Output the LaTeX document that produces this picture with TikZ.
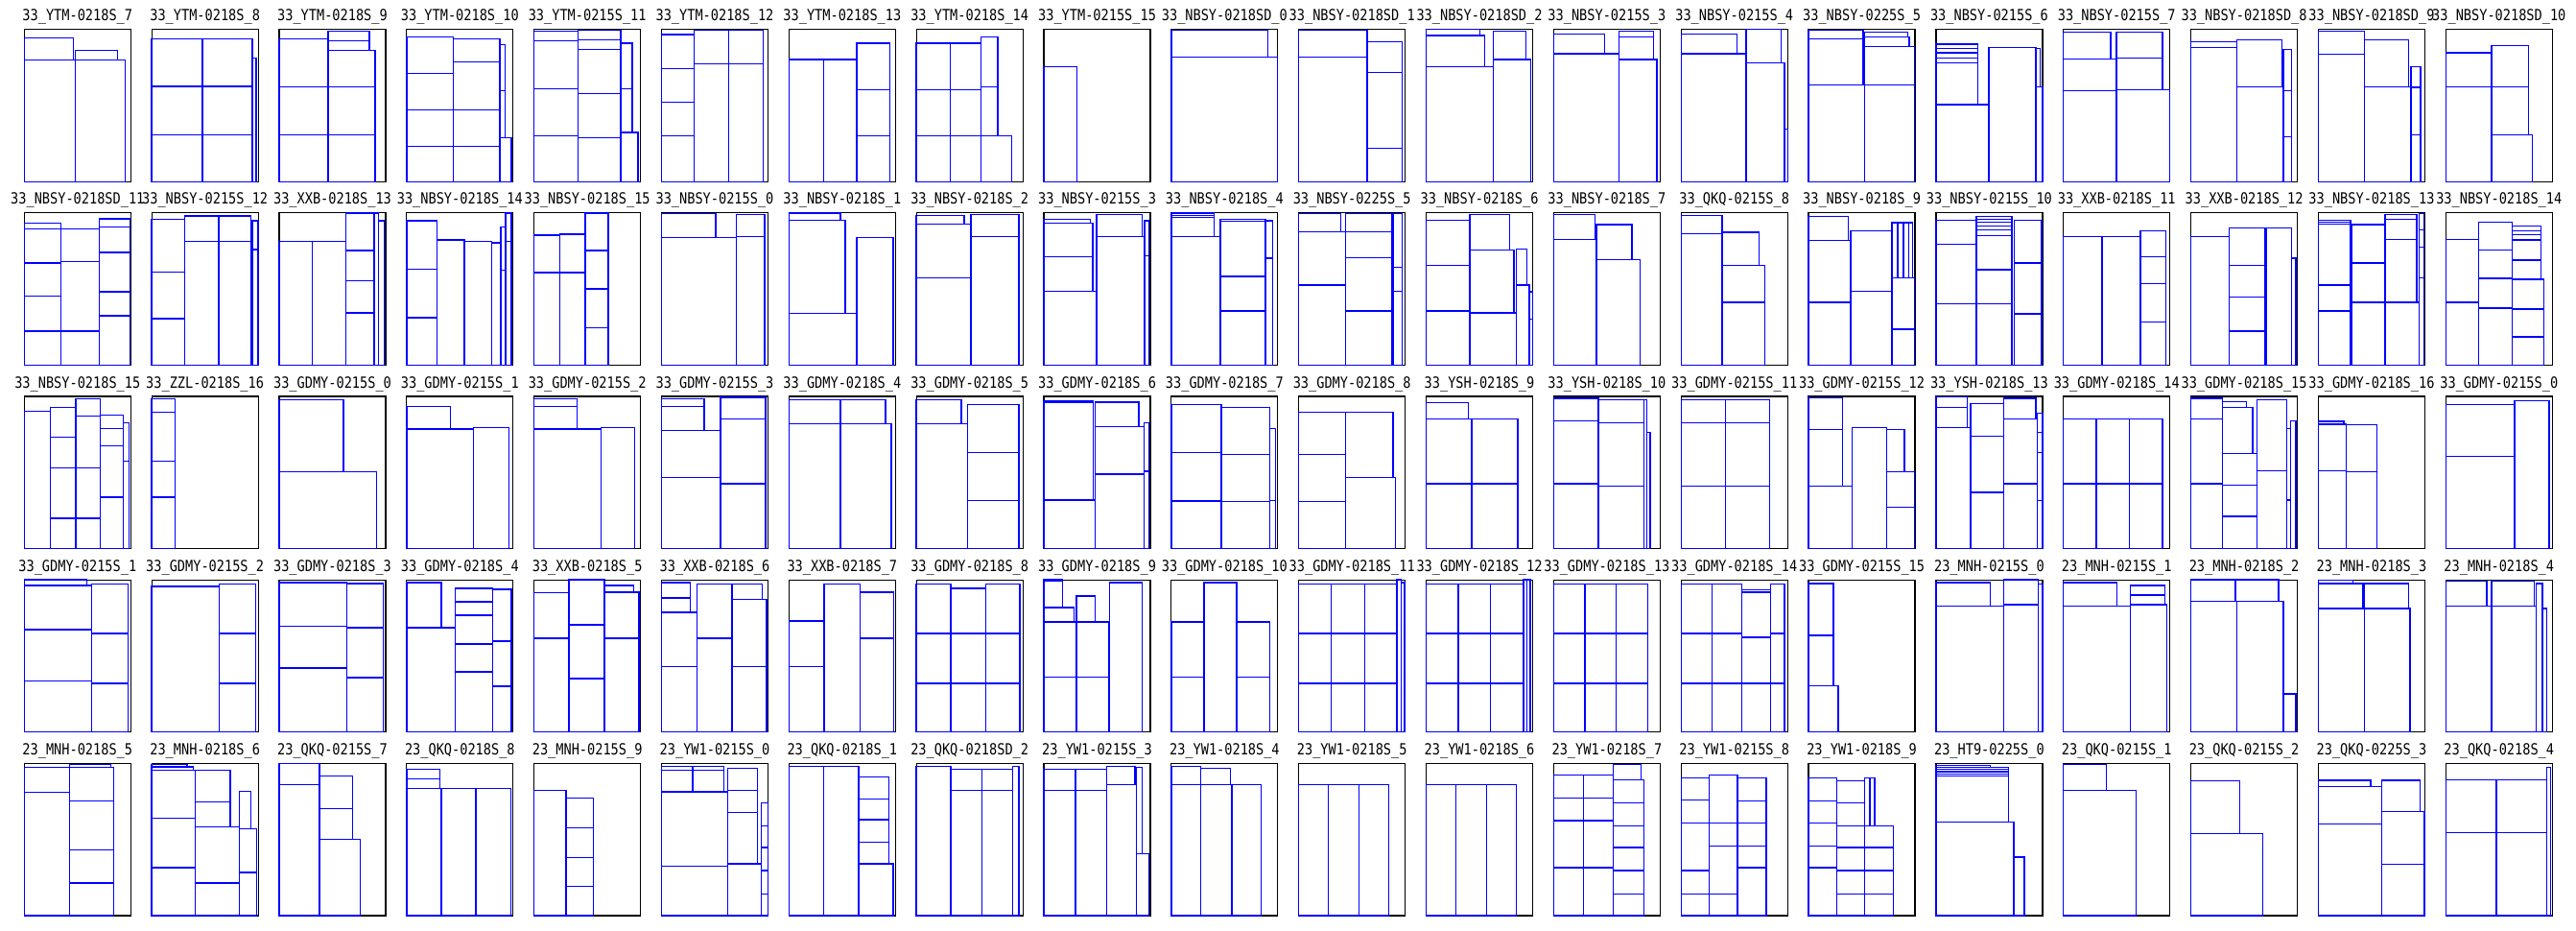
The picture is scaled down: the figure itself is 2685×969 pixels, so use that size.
\documentclass[tikz,border=0pt]{standalone}
\usepackage{fontspec}
\newfontfamily\titlefont[FakeStretch=0.85]{DejaVu Sans Mono}
\tikzset{
  ttl/.style={anchor=base,inner sep=0pt,font=\titlefont\fontsize{8pt}{9pt}\selectfont},
  binbox/.style={draw=black,line width=0.6pt},
  bin/.style={draw=blue,line width=0.7pt}
}
\newcommand{\pnl}[4]{%
  \begin{scope}[shift={({25.3+#1*132.84},{30.7+#2*191.15})}]
    \node[ttl] (t#1r#2) at (55.5,-9) {#3};
    \begin{scope}[x=0.555pt,y=-0.793pt]
      \draw[binbox] (0,0) rectangle (100,100);
      \foreach \a/\b/\c/\d in {#4} \draw[bin] (\a,\b) rectangle (\c,\d);
    \end{scope}
  \end{scope}}
\begin{document}
\begin{tikzpicture}[x=0.5pt,y=-0.5pt]
\useasboundingbox (0,0) rectangle (2685,969);
% ---------------- row 1
\pnl{0}{0}{33\_YTM-0218S\_7}{0/5.5/46/20, 47.7/13.7/87.4/20, 0/20/47.7/100, 47.7/20/94.6/100}
\pnl{1}{0}{33\_YTM-0218S\_8}{0/6.1/47.7/37.4, 0/37.4/47.7/69.3, 0/69.3/47.7/100, 47.7/6.1/94.6/37.4, 47.7/37.4/94.6/69.3, 47.7/69.3/94.6/100, 94.6/18.7/98.2/100}
\pnl{2}{0}{33\_YTM-0218S\_9}{46/1/84.6/7.4, 46/7.4/84.6/13.7, 0/6.1/46/37.6, 0/37.6/46/69.3, 0/69.3/46/100, 46/13.7/90/37.6, 46/37.6/90/69.3, 46/69.3/90/100}
\pnl{3}{0}{33\_YTM-0218S\_10}{0/4.8/43.8/28.8, 0/28.8/43.8/52.7, 0/52.7/43.8/76.7, 0/76.7/43.8/100, 43.8/6.1/87.7/21.2, 43.8/21.2/87.7/52.7, 43.8/52.7/87.7/76.7, 43.8/76.7/87.7/100, 87.7/9.9/92.3/40.3, 87.7/40.3/92.3/71.2, 87.7/71.2/98.5/100}
\pnl{4}{0}{33\_YTM-0215S\_11}{0/1/41.5/7.4, 0/7.4/41.5/38.9, 0/38.9/41.5/70, 0/70/41.5/100, 41.5/0.6/81.5/6.7, 41.5/6.7/81.5/13, 41.5/13/81.5/42, 41.5/42/81.5/71.2, 41.5/71.2/81.5/100, 81.5/9/92.3/38.9, 81.5/38.9/92.3/67.6, 81.5/67.6/97.7/100}
\pnl{5}{0}{33\_YTM-0218S\_12}{0/3.4/30.8/25.6, 0/25.6/30.8/47.9, 0/47.9/30.8/70, 0/70/30.8/100, 30.8/0.6/63/22.5, 30.8/22.5/63/100, 63/0.6/95.4/22.5, 63/22.5/95.4/100}
\pnl{6}{0}{33\_YTM-0218S\_13}{0/19.7/32.3/100, 32.3/19.7/63.8/100, 63.8/9/94.6/39.7, 63.8/39.7/94.6/70, 63.8/70/94.6/100}
\pnl{7}{0}{33\_YTM-0218S\_14}{0/9/31.8/39.7, 0/39.7/31.8/70, 0/70/31.8/100, 31.8/9/60.6/39.7, 31.8/39.7/60.6/70, 31.8/70/60.6/100, 60.6/4.8/76.5/37.6, 60.6/37.6/76.5/70, 60.6/70/89.4/100}
\pnl{8}{0}{33\_YTM-0215S\_15}{0/24.4/30.8/100}
\pnl{9}{0}{33\_NBSY-0218SD\_0}{0/0.6/90.8/18, 0/18/99.5/100}
\pnl{10}{0}{33\_NBSY-0218SD\_1}{0/0.6/64.3/18, 0/18/64.3/100, 64.3/8/96.9/28.4, 64.3/28.4/96.9/77.9, 64.3/77.9/96.9/100}
\pnl{11}{0}{33\_NBSY-0218SD\_2}{0/0/50.4/4, 0/4/55/24.4, 0/24.4/62.8/100, 62.8/1/93.8/19.7, 62.8/19.7/98.4/100}
\pnl{12}{0}{33\_NBSY-0215S\_3}{0/3.2/48/16, 0/16/61.2/100, 61.2/1/93.8/4.8, 61.2/4.8/93.8/19.7, 61.2/19.7/96.9/100}
\pnl{13}{0}{33\_NBSY-0215S\_4}{0/3.2/52.7/16, 0/16/61.2/100, 61.2/0/93.8/21.8, 61.2/21.8/96.9/100, 96.9/65.3/100/100}
\pnl{14}{0}{33\_NBSY-0225S\_5}{0/0.6/51.2/6.1, 0/6.1/51.2/36.3, 0/36.3/52.7/100, 52.7/1.7/93/4.8, 52.7/4.8/94.6/11.3, 52.7/11.3/99.2/36.3, 52.7/36.3/99.2/100}
\pnl{15}{0}{33\_NBSY-0215S\_6}{0/9.7/39.5/12.4, 0/12.4/39.5/15.3, 0/15.3/39.5/18.7, 0/18.7/39.5/22, 0/22/39.5/49.4, 0/49.4/49.6/100, 49.6/11.8/93.8/100, 93.8/12.4/97.7/37.6, 93.8/37.6/100/100}
\pnl{16}{0}{33\_NBSY-0215S\_7}{0/1.7/44.2/19.3, 0/19.3/49.6/40.3, 0/40.3/49.6/100, 49.6/1.7/93/18.7, 49.6/18.7/93/39.7, 49.6/39.7/100/100}
\pnl{17}{0}{33\_NBSY-0218SD\_8}{0/8/43.4/11.8, 0/11.8/43.4/100, 43.4/6.7/85.3/37.6, 43.4/37.6/86.8/100, 86.8/13.2/94.6/40.3, 86.8/40.3/94.6/70.6, 86.8/70.6/94.6/100}
\pnl{18}{0}{33\_NBSY-0218SD\_9}{0/1/43.4/16.4, 0/16.4/43.4/100, 43.4/6.7/84.5/37.6, 43.4/37.6/86.8/100, 86.8/24.4/96.1/38, 86.8/38/96.1/69.3, 86.8/69.3/96.1/100}
\pnl{19}{0}{33\_NBSY-0218SD\_10}{0/15.3/43/37.6, 0/37.6/43/100, 43/10.5/77.7/37.6, 43/37.6/77.7/69.3, 43/69.3/81.5/100}
% ---------------- row 2
\pnl{0}{1}{33\_NBSY-0218SD\_11}{0/6.7/34.4/10.5, 0/10.5/34.4/33, 0/33/34.4/54.8, 0/54.8/34.4/77.6, 0/77.6/34.4/100, 34.4/10.5/70.3/31.8, 34.4/31.8/70.3/77.6, 34.4/77.6/70.3/100, 70.3/4/99.2/9.2, 70.3/9.2/99.2/25.9, 70.3/25.9/99.2/51.9, 70.3/51.9/99.2/67.6, 70.3/67.6/99.2/100}
\pnl{1}{1}{33\_NBSY-0215S\_12}{0/4.2/31/38.7, 0/38.7/31/69.5, 0/69.5/31/100, 31/2.1/62.8/18.6, 31/18.6/62.8/100, 62.8/2.1/93/18.6, 62.8/18.6/93/100, 94.6/5.2/100/24, 94.6/24/100/100}
\pnl{2}{1}{33\_XXB-0218S\_13}{0/18.6/31/100, 31/18.6/62.8/100, 62.8/0/89.1/24.7, 62.8/24.7/89.1/44.6, 62.8/44.6/89.1/65.7, 62.8/65.7/89.1/100, 89.1/0/93/100, 93/5.2/98.4/100}
\pnl{3}{1}{33\_NBSY-0218S\_14}{0/5.2/28.7/36.8, 0/36.8/28.7/68.8, 0/68.8/28.7/100, 28.7/17.8/54.3/100, 54.3/18.6/79.8/100, 79.8/19.7/88.4/100, 88.4/9.2/93/37.7, 88.4/37.7/93/100, 93/0/98.4/18.6, 93/18.6/98.4/100}
\pnl{4}{1}{33\_NBSY-0218S\_15}{0/14.6/24/39.3, 0/39.3/24/100, 24/14/48/39.3, 24/39.3/48/100, 48/0/69.8/24.7, 48/24.7/69.8/50, 48/50/69.8/75.3, 48/75.3/69.8/100}
\pnl{5}{1}{33\_NBSY-0215S\_0}{0/0.4/50.8/16.1, 0/16.1/70/100, 70/1/96.9/15.5, 70/15.5/96.9/100}
\pnl{6}{1}{33\_NBSY-0218S\_1}{0/0/48.5/4.8, 0/4.8/53/66.1, 0/66.1/63.8/100, 63.8/16.1/97.7/100}
\pnl{7}{1}{33\_NBSY-0218S\_2}{0/1.7/45/7.3, 0/7.3/51.1/42.5, 0/42.5/51.1/100, 51.1/1/96.2/15.5, 51.1/15.5/96.2/100}
\pnl{8}{1}{33\_NBSY-0215S\_3}{0/4.2/43.5/6.7, 0/6.7/45.8/28.9, 0/28.9/45.8/51.3, 0/51.3/49.6/100, 49.6/1/92.4/15.5, 49.6/15.5/94.7/100, 94.7/5.2/98.5/28, 94.7/28/98.5/100}
\pnl{9}{1}{33\_NBSY-0218S\_4}{0/0/40/1.7, 0/1.7/40/2.9, 0/2.9/40/15.5, 0/15.5/46.2/100, 46.2/4.2/88.5/5.4, 46.2/5.4/88.5/41.8, 46.2/41.8/88.5/64.4, 46.2/64.4/88.5/100, 88.5/5.2/95.4/29.7, 88.5/29.7/95.4/100}
\pnl{10}{1}{33\_NBSY-0225S\_5}{0/0.4/39.5/12.3, 0/12.3/44.2/47.5, 0/47.5/44.2/100, 44.2/0.4/87.6/12.3, 44.2/12.3/87.6/29.3, 44.2/29.3/87.6/64.4, 44.2/64.4/87.6/100, 88.4/0.4/96.9/35.6, 88.4/35.6/96.9/51.3, 88.4/51.3/96.9/100}
\pnl{11}{1}{33\_NBSY-0218S\_6}{0/4.8/41/34.3, 0/34.3/41/64.4, 0/64.4/41/100, 41/1/78.3/24.3, 41/24.3/82.2/65.7, 41/65.7/84.5/100, 84.5/23.6/94.6/47.5, 84.5/47.5/96.9/100, 96.9/51.7/100/69.7, 96.9/69.7/100/100}
\pnl{12}{1}{33\_NBSY-0218S\_7}{0/1/38.8/17.4, 0/17.4/40.3/100, 40.3/7.7/73.6/30.5, 40.3/30.5/81.4/100}
\pnl{13}{1}{33\_QKQ-0215S\_8}{0/1.7/38.5/13.6, 0/13.6/38.5/100, 38.5/12.8/73/34.3, 38.5/34.3/78.5/58.8, 38.5/58.8/78.5/100}
\pnl{14}{1}{33\_NBSY-0218S\_9}{0/2.3/37.2/18, 0/18/39.5/58.8, 0/58.8/39.5/100, 39.5/11.7/78.3/51.3, 39.5/51.3/78.3/100, 78.3/6.5/83.7/42.5, 83.7/6.5/89.1/42.5, 89.1/6.5/93.8/42.5, 93.8/6.5/97.7/42.5, 78.3/42.5/99.2/76.4, 78.3/76.4/99.2/100}
\pnl{15}{1}{33\_NBSY-0215S\_10}{0/4.8/38/20.5, 0/20.5/38/59.8, 0/59.8/38/100, 38/2.3/71.3/4.2, 38/4.2/71.3/6.1, 38/6.1/71.3/8.6, 38/8.6/71.3/11.1, 38/11.1/71.3/14.9, 38/14.9/71.3/37.2, 38/37.2/71.3/59.8, 38/59.8/71.3/100, 73.6/4.8/99.2/33, 73.6/33/99.2/66.3, 73.6/66.3/99.2/100}
\pnl{16}{1}{33\_XXB-0218S\_11}{0/15.5/36.4/100, 36.4/15.5/72.1/100, 72.1/11.7/96.1/28.9, 72.1/28.9/96.1/46.4, 72.1/46.4/96.1/71.5, 72.1/71.5/96.1/100}
\pnl{17}{1}{33\_XXB-0218S\_12}{0/15.5/35.7/100, 35.7/9.8/69/34.3, 35.7/34.3/69/55.4, 35.7/55.4/69/77.6, 35.7/77.6/69/100, 70.5/9.8/94.6/100, 94.6/29.7/98.4/100}
\pnl{18}{1}{33\_NBSY-0218S\_13}{0/4.8/30.2/5.9, 0/5.9/30.2/7.3, 0/7.3/30.2/47.5, 0/47.5/30.2/64.4, 0/64.4/30.2/100, 31.8/7.7/62.8/33, 31.8/33/62.8/58.8, 31.8/58.8/62.8/100, 62.8/1/92.2/4.2, 62.8/4.2/92.2/17.4, 62.8/17.4/92.2/58.8, 62.8/58.8/94.6/100, 94.6/0.4/99.2/11.1, 94.6/11.1/99.2/22.6, 94.6/22.6/99.2/42.5, 94.6/42.5/99.2/100}
\pnl{19}{1}{33\_NBSY-0218S\_14}{0/17.4/30.8/58.8, 0/58.8/30.8/100, 30.8/6.1/62.3/24.3, 30.8/24.3/62.3/42.9, 30.8/42.9/62.3/62.6, 30.8/62.6/62.3/100, 62.3/8.6/89.2/11.7, 62.3/11.7/89.2/14.2, 62.3/14.2/89.2/17.8, 62.3/17.8/89.2/30.9, 62.3/30.9/89.2/43.5, 62.3/43.5/92.3/63.2, 62.3/63.2/92.3/81.4, 62.3/81.4/92.3/100}
% ---------------- row 3
\pnl{0}{2}{33\_NBSY-0218S\_15}{0/9.8/24.6/100, 24.6/7.3/48.5/26.8, 24.6/26.8/48.5/47.1, 24.6/47.1/48.5/80.1, 24.6/80.1/48.5/100, 48.5/1.7/71.5/13, 48.5/13/71.5/47.1, 48.5/47.1/71.5/80.1, 48.5/80.1/71.5/100, 71.5/12.3/93/21.1, 71.5/21.1/93/32.4, 71.5/32.4/93/66.3, 71.5/66.3/93/100, 93/17.4/98.5/42.7, 93/42.7/98.5/100}
\pnl{1}{2}{33\_ZZL-0218S\_16}{0/1.7/21.7/10.5, 0/10.5/21.7/42.7, 0/42.7/21.7/66.3, 0/66.3/21.7/100}
\pnl{2}{2}{33\_GDMY-0215S\_0}{0/2.1/60.5/49.6, 0/49.6/91.5/100}
\pnl{3}{2}{33\_GDMY-0215S\_1}{0/6.7/41/21.5, 0/21.5/62.8/100, 62.8/20.5/96.1/100}
\pnl{4}{2}{33\_GDMY-0215S\_2}{0/1.7/40.3/6.7, 0/6.7/40.3/21.5, 0/21.5/62.8/100, 62.8/20.5/94.6/100}
\pnl{5}{2}{33\_GDMY-0215S\_3}{0/1.7/40/6.7, 0/6.7/40/22.2, 0/22.2/55.4/53.3, 0/53.3/55.4/100, 55.4/0.6/97.7/14.9, 55.4/14.9/97.7/57.3, 55.4/57.3/97.7/100}
\pnl{6}{2}{33\_GDMY-0218S\_4}{0/2.1/48.5/18, 0/18/48.5/100, 48.5/2.1/90.8/18, 48.5/18/96.2/100}
\pnl{7}{2}{33\_GDMY-0218S\_5}{0/2.1/42/18, 0/18/48.1/100, 48.1/5.2/96.2/37, 48.1/37/96.2/68.4, 48.1/68.4/96.2/100}
\pnl{8}{2}{33\_GDMY-0218S\_6}{0/2.7/46.6/3.6, 0/3.6/46.6/4.2, 0/4.2/46.6/68.2, 0/68.2/48.1/100, 48.1/3.8/89.3/19.9, 48.1/19.9/93.9/51, 48.1/51/93.9/100, 93.9/17.4/98.5/49.2, 93.9/49.2/98.5/100}
\pnl{9}{2}{33\_GDMY-0218S\_7}{0/5.2/46.9/36.8, 0/36.8/46.9/68.6, 0/68.6/46.9/100, 46.9/7.3/92.3/38.1, 46.9/38.1/92.3/69.2, 46.9/69.2/92.3/100, 92.3/21.1/97.7/68.4, 92.3/68.4/97.7/100}
\pnl{10}{2}{33\_GDMY-0218S\_8}{0/10.5/44.2/38.1, 0/38.1/44.2/69.2, 0/69.2/44.2/100, 44.2/10.5/88.4/53.1, 44.2/53.1/90.7/100}
\pnl{11}{2}{33\_YSH-0218S\_9}{0/4.2/39.5/14.9, 0/14.9/42.6/57.3, 0/57.3/42.6/100, 42.6/14.9/86/57.3, 42.6/57.3/86/100}
\pnl{12}{2}{33\_YSH-0218S\_10}{0/1.3/41.9/16.1, 0/16.1/41.9/57.3, 0/57.3/41.9/100, 41.9/2.1/84.5/17.2, 41.9/17.2/84.5/59, 41.9/59/84.5/100, 84.5/2.1/87.6/100, 87.6/23.6/90.7/100}
\pnl{13}{2}{33\_GDMY-0215S\_11}{0/2.1/41.5/17.4, 0/17.4/41.5/58.8, 0/58.8/41.5/100, 41.5/2.1/83.1/17.4, 41.5/17.4/83.1/58.8, 41.5/58.8/83.1/100}
\pnl{14}{2}{33\_GDMY-0215S\_12}{0/1/31.8/21.8, 0/21.8/31.8/58.8, 0/58.8/41/100, 41/20.5/73.6/100, 73.6/21.8/89.9/49.6, 73.6/49.6/99.5/72.8, 73.6/72.8/99.5/100}
\pnl{15}{2}{33\_YSH-0218S\_13}{0/0.4/29.5/7.3, 0/7.3/29.5/20.5, 0/20.5/32.6/100, 32.6/4.6/63.6/26.2, 32.6/26.2/63.6/63, 32.6/63/63.6/100, 63.6/1.3/93.8/14.9, 63.6/14.9/95.3/57.3, 63.6/57.3/95.3/100, 95.3/11.1/100/23.6, 95.3/23.6/100/36.8, 95.3/36.8/100/68.4, 95.3/68.4/100/100}
\pnl{16}{2}{33\_GDMY-0218S\_14}{0/14.9/31/57.3, 0/57.3/31/100, 31/14.9/62/57.3, 31/57.3/62/100, 62/14.9/93/57.3, 62/57.3/93/100}
\pnl{17}{2}{33\_GDMY-0218S\_15}{0/1.3/29.5/14.9, 0/14.9/29.5/57.3, 0/57.3/29.5/100, 29.5/3.6/51.9/7.3, 29.5/7.3/58.1/37.7, 29.5/37.7/62/58.2, 29.5/58.2/62/78.9, 29.5/78.9/62/100, 62/2.1/89.9/49, 62/49/89.9/100, 89.9/21.1/93.8/68.2, 89.9/68.2/93.8/100, 93.8/15.9/98.4/100}
\pnl{18}{2}{33\_GDMY-0218S\_16}{0/16.5/24/18.2, 0/18.2/26.4/49, 0/49/26.4/100, 26.4/18.6/55/49.6, 26.4/49.6/55/100}
\pnl{19}{2}{33\_GDMY-0215S\_0}{0/5.2/64.6/39.3, 0/39.3/64.6/100, 64.6/2.9/96.9/100}
% ---------------- row 4
\pnl{0}{3}{33\_GDMY-0215S\_1}{0/0/58.5/3.6, 0/3.6/63/32.6, 0/32.6/63/66.3, 0/66.3/63/100, 63/2.9/97.7/35.2, 63/35.2/97.7/68, 63/68/97.7/100}
\pnl{1}{3}{33\_GDMY-0215S\_2}{0/4.2/63.6/100, 63.6/2.9/97.7/35.2, 63.6/35.2/97.7/68, 63.6/68/97.7/100}
\pnl{2}{3}{33\_GDMY-0218S\_3}{0/1.7/63.6/30.3, 0/30.3/63.6/57.9, 0/57.9/63.6/100, 63.6/2.3/97.7/31.4, 63.6/31.4/97.7/64.2, 63.6/64.2/97.7/100}
\pnl{3}{3}{33\_GDMY-0218S\_4}{0/1.7/32.6/31.4, 0/31.4/45.7/100, 45.7/5.5/80.6/14.3, 45.7/14.3/80.6/23.2, 45.7/23.2/80.6/42.1, 45.7/42.1/80.6/60.4, 45.7/60.4/80.6/100, 80.6/6.1/98.4/40.2, 80.6/40.2/98.4/69.9, 80.6/69.9/98.4/100}
\pnl{4}{3}{33\_XXB-0218S\_5}{0/8.6/32.6/38.3, 0/38.3/32.6/100, 32.6/0/65.9/29.5, 32.6/29.5/65.9/64.8, 32.6/64.8/65.9/100, 65.9/3.6/93.8/8, 65.9/8/98.4/38.3, 65.9/38.3/98.4/100}
\pnl{5}{3}{33\_XXB-0218S\_6}{0/1.7/26.9/11.8, 0/11.8/26.9/21.3, 0/21.3/33.1/56.8, 0/56.8/33.1/100, 33.1/2.9/66.2/38.3, 33.1/38.3/66.2/100, 66.2/2.9/94.6/13, 66.2/13/98.5/56.8, 66.2/56.8/98.5/100}
\pnl{6}{3}{33\_XXB-0218S\_7}{0/26.9/33.1/56.8, 0/56.8/33.1/100, 33.1/2.9/66.9/100, 66.9/8/98.5/38.3, 66.9/38.3/98.5/100}
\pnl{7}{3}{33\_GDMY-0218S\_8}{0/2.9/32.1/35.2, 0/35.2/32.1/68, 0/68/32.1/100, 32.1/5.5/64.9/35.2, 32.1/35.2/64.9/68, 32.1/68/64.9/100, 64.9/2.9/97/35.2, 64.9/35.2/97/68, 64.9/68/97/100}
\pnl{8}{3}{33\_GDMY-0218S\_9}{0/0/17.6/1, 0/1/17.6/18.1, 0/18.1/28.2/27.6, 0/27.6/30.5/64, 0/64/30.5/100, 30.5/10.5/48.1/27.6, 30.5/27.6/61.1/64, 30.5/64/61.1/100, 61.8/1.7/92.4/100}
\pnl{9}{3}{33\_GDMY-0218S\_10}{0/27.6/30.8/64, 0/64/30.8/100, 30.8/1.7/61.5/100, 61.5/27.6/92.3/64, 61.5/64/92.3/100}
\pnl{10}{3}{33\_GDMY-0218S\_11}{0/2.9/30.2/35.2, 0/35.2/30.2/68, 0/68/30.2/100, 30.2/2.9/62/35.2, 30.2/35.2/62/68, 30.2/68/62/100, 62/2.9/92.2/35.2, 62/35.2/92.2/68, 62/68/92.2/100, 92.2/0/96.1/100, 96.1/1.7/99.2/100}
\pnl{11}{3}{33\_GDMY-0218S\_12}{0/2.9/30.2/35.2, 0/35.2/30.2/68, 0/68/30.2/100, 30.2/2.9/60.5/35.2, 30.2/35.2/60.5/68, 30.2/68/60.5/100, 60.5/2.9/91.5/35.2, 60.5/35.2/91.5/68, 60.5/68/91.5/100, 91.5/0/94.6/100, 94.6/0/97.7/100}
\pnl{12}{3}{33\_GDMY-0218S\_13}{0/2.9/29.5/35.2, 0/35.2/29.5/68, 0/68/29.5/100, 29.5/2.9/58.9/35.2, 29.5/35.2/58.9/68, 29.5/68/58.9/100, 58.9/2.9/88.4/35.2, 58.9/35.2/88.4/68, 58.9/68/88.4/100}
\pnl{13}{3}{33\_GDMY-0218S\_14}{0/2.9/29.2/35.2, 0/35.2/29.2/68, 0/68/29.2/100, 29.2/2.9/56.9/35.2, 29.2/35.2/56.9/68, 29.2/68/56.9/100, 56.9/6.7/83.8/8, 56.9/8/83.8/37.7, 56.9/37.7/83.8/68, 56.9/68/83.8/100, 83.8/2.9/96.9/35.2, 83.8/35.2/96.9/68, 83.8/68/96.9/100}
\pnl{14}{3}{33\_GDMY-0215S\_15}{0/2.3/23.3/36.4, 0/36.4/23.3/69.7, 0/69.7/27.9/100}
\pnl{15}{3}{23\_MNH-0215S\_0}{0/1.7/51.2/17.3, 0/17.3/63.6/100, 63.6/0/96.1/16.2, 63.6/16.2/96.1/100, 96.1/2.9/100/100}
\pnl{16}{3}{23\_MNH-0215S\_1}{0/1.7/50.4/17.3, 0/17.3/62.8/100, 62.8/3.6/95.3/9.9, 62.8/9.9/95.3/16.2, 62.8/16.2/96.9/100}
\pnl{17}{3}{23\_MNH-0218S\_2}{0/0/41.9/13.9, 41.9/0/82.2/13.9, 0/13.9/43.4/100, 43.4/13.9/86.8/100, 86.8/74.9/98.4/100}
\pnl{18}{3}{23\_MNH-0218S\_3}{0/0.4/32.6/2.3, 0/2.3/41.9/18.9, 0/18.9/43.4/100, 43.4/2.3/84.5/18.9, 43.4/18.9/86/100}
\pnl{19}{3}{23\_MNH-0218S\_4}{0/1/38.5/17.3, 0/17.3/43.1/100, 43.1/1/83.1/17.3, 43.1/17.3/84.6/100, 84.6/2.3/90.8/100, 90.8/18.9/94.6/100}
% ---------------- row 5
\pnl{0}{4}{23\_MNH-0218S\_5}{0/2.7/42.3/19, 0/19/42.3/100, 42.3/0.6/81.5/2.7, 42.3/2.7/83.8/24.7, 42.3/24.7/83.8/56.9, 42.3/56.9/83.8/78.7, 42.3/78.7/83.8/100}
\pnl{1}{4}{23\_MNH-0218S\_6}{0/0.6/33.3/2.3, 0/2.3/38.8/4.6, 0/4.6/41.1/36, 0/36/41.1/68.6, 0/68.6/41.1/100, 41.1/4.6/73.6/25.3, 41.1/25.3/73.6/41.6, 41.1/41.6/82.2/78.7, 41.1/78.7/82.2/100, 82.2/18.4/93/42.9, 82.2/42.9/98.4/71.8, 82.2/71.8/98.4/100}
\pnl{2}{4}{23\_QKQ-0215S\_7}{0/0/38/14, 0/14/38/100, 38/8.4/69/29.7, 38/29.7/69/49.8, 38/49.8/76/100}
\pnl{3}{4}{23\_QKQ-0218S\_8}{0/4/31/10.3, 0/10.3/31/16.5, 0/16.5/32.6/100, 32.6/16.5/65.1/100, 65.1/16.5/97.7/100}
\pnl{4}{4}{23\_MNH-0215S\_9}{0/17.8/30.2/100, 30.2/22.8/55.8/42.3, 30.2/42.3/55.8/61.9, 30.2/61.9/55.8/80.8, 30.2/80.8/55.8/100}
\pnl{5}{4}{23\_YW1-0215S\_0}{0/1.9/29.2/4.6, 0/4.6/29.2/18.8, 29.2/1.9/58.5/4.6, 29.2/4.6/58.5/18.8, 0/18.8/62.3/67.4, 0/67.4/62.3/100, 62.3/3.3/90/17.8, 62.3/17.8/90/32.2, 62.3/32.2/90/65.9, 62.3/65.9/93.8/100, 93.8/25.9/100/41, 93.8/41/100/55.2, 93.8/55.2/100/70.5, 93.8/70.5/100/85.8, 93.8/85.8/100/100}
\pnl{6}{4}{23\_QKQ-0218S\_1}{0/1.9/32.3/100, 32.3/1.9/65.4/100, 65.4/9/93.8/23.4, 65.4/23.4/93.8/37, 65.4/37/93.8/51.7, 65.4/51.7/93.8/65.9, 65.4/65.9/97.7/100}
\pnl{7}{4}{23\_QKQ-0218SD\_2}{0/1.9/32.1/100, 32.1/4/61.8/17.8, 32.1/17.8/61.8/100, 61.8/4/90.1/17.8, 61.8/17.8/90.1/100, 90.1/1.9/96.2/100}
\pnl{8}{4}{23\_YW1-0215S\_3}{0/4/29.8/17.8, 0/17.8/29.8/100, 29.8/4/58.8/17.8, 29.8/17.8/58.8/100, 58.8/1.9/85.5/14, 58.8/14/87/100, 87/2.7/92.4/59.2, 87/59.2/98.5/100}
\pnl{9}{4}{23\_YW1-0218S\_4}{0/1.9/27.7/14, 27.7/3.3/55.4/14, 0/14/27.7/100, 27.7/14/56.9/100, 56.9/14/84.6/100}
\pnl{10}{4}{23\_YW1-0218S\_5}{0/14/27.9/100, 27.9/14/56.6/100, 56.6/14/84.5/100}
\pnl{11}{4}{23\_YW1-0218S\_6}{0/14/27.9/100, 27.9/14/56.6/100, 56.6/14/84.5/100}
\pnl{12}{4}{23\_YW1-0218S\_7}{0/7.5/27.9/22.8, 0/22.8/27.9/37.7, 0/37.7/27.9/68.6, 0/68.6/27.9/100, 27.9/7.5/55.8/22.8, 27.9/22.8/55.8/37.7, 27.9/37.7/55.8/68.6, 27.9/68.6/55.8/100, 55.8/0.6/82.2/10.9, 55.8/10.9/84.5/25.9, 55.8/25.9/84.5/41, 55.8/41/84.5/55.2, 55.8/55.2/84.5/70.5, 55.8/70.5/84.5/85.8, 55.8/85.8/84.5/100}
\pnl{13}{4}{23\_YW1-0215S\_8}{0/9.6/26.2/24.1, 0/24.1/26.2/39.3, 0/39.3/26.2/70.5, 0/70.5/26.2/85.8, 0/85.8/26.2/100, 26.2/7.5/53.1/39.3, 26.2/39.3/53.1/54.2, 26.2/54.2/53.1/85.8, 26.2/85.8/53.1/100, 53.1/9.6/80/24.7, 53.1/24.7/80/39.3, 53.1/39.3/80/54.2, 53.1/54.2/80/68.6, 53.1/68.6/80/100}
\pnl{14}{4}{23\_YW1-0218S\_9}{0/9.6/26.4/24.7, 0/24.7/26.4/39.3, 0/39.3/26.4/54.2, 0/54.2/26.4/68.6, 0/68.6/26.4/100, 26.4/11.5/52.7/25.9, 26.4/25.9/52.7/41, 52.7/9.6/57.4/41, 57.4/9.6/62/41, 26.4/41/52.7/55.2, 26.4/55.2/52.7/70.5, 26.4/70.5/52.7/85.8, 26.4/85.8/52.7/100, 52.7/41/79.8/55.2, 52.7/55.2/79.8/70.5, 52.7/70.5/79.8/85.8, 52.7/85.8/79.8/100}
\pnl{15}{4}{23\_HT9-0225S\_0}{0/1.3/51.2/2.5, 0/2.5/68.2/4, 0/4/68.2/5.4, 0/5.4/68.2/6.9, 0/6.9/68.2/8.4, 0/8.4/68.2/38.5, 0/38.5/72.9/100, 72.9/61.5/82.9/100}
\pnl{16}{4}{23\_QKQ-0215S\_1}{0/0.6/40.3/17.8, 0/17.8/68.2/100}
\pnl{17}{4}{23\_QKQ-0215S\_2}{0/11.5/45.7/46, 0/46/67.4/100}
\pnl{18}{4}{23\_QKQ-0225S\_3}{0/11.1/49.1/15.1, 0/15.1/59.7/39.7, 0/39.7/59.7/100, 59.7/11.1/95.5/31.5, 59.7/31.5/99.7/66.2, 59.7/66.2/99.7/100}
\pnl{19}{4}{23\_QKQ-0218S\_4}{0/10.7/47.6/45.4, 0/45.4/47.6/100, 47.6/10.7/94.9/45.4, 47.6/45.4/94.9/100, 94.9/2.5/98.2/100}
\end{tikzpicture}
\end{document}
